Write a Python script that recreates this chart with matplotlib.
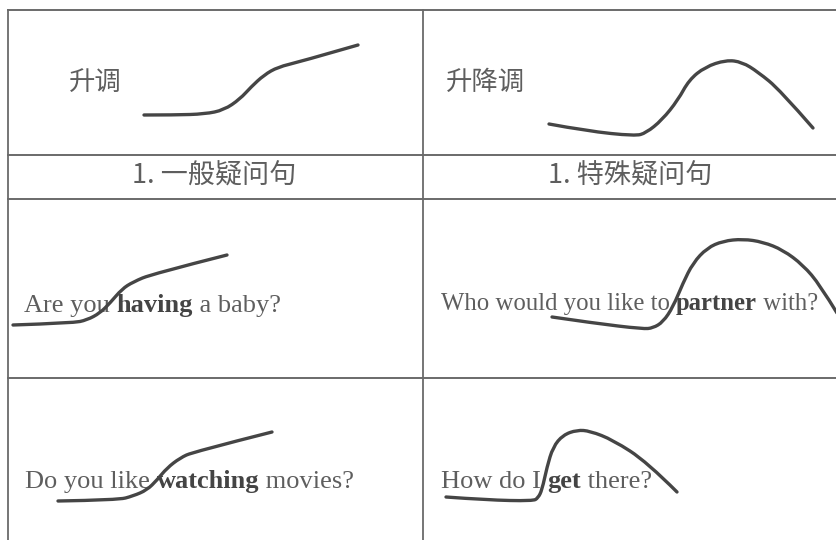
import matplotlib
matplotlib.use('Agg')
import matplotlib.pyplot as plt
from matplotlib.path import Path
from matplotlib.patches import PathPatch

plt.rcParams['font.family'] = ['Noto Sans CJK SC', 'DejaVu Sans']

W, H = 837, 540

# table grid, in pixels from the top-left corner
row_lines = [10, 155, 199, 378]
col_lines = [8, 423]

tone_labels = ['升调', '升降调']
type_labels = ['1. 一般疑问句', '1. 特殊疑问句']

# sentences: (before, bold word, after)
sentences = [
    ('Are you ', 'having', ' a baby?'),
    ('Who would you like to ', 'partner', ' with?'),
    ('Do you like ', 'watching', ' movies?'),
    ('How do I ', 'get', ' there?'),
]
sent_pos = [(24, 312), (441, 310), (25, 488), (441, 488)]
sent_size = [19, 17.8, 19, 19]

# intonation curves
rise_x = [144, 175, 205, 224, 240, 251, 264, 278, 299, 358]
rise_y = [115, 115, 114, 110, 99, 87, 75, 67, 62, 45]

risefall_x = [549, 587, 635, 646, 662, 678, 689, 705, 726, 742, 758, 780, 813]
risefall_y = [124, 131, 136, 133, 120, 100, 80, 67, 60, 62, 72, 90, 128]

baby_x = [13, 73, 87, 100, 110, 122, 133, 152, 227]
baby_y = [325, 323, 320, 313, 303, 289, 282, 274, 255]

partner_x = [552, 593, 643, 653, 663, 673, 683, 693, 707, 723, 743, 763, 783, 803, 820, 837]
partner_y = [317, 323, 329, 328, 322, 307, 283, 263, 248, 241, 239, 242, 250, 265, 285, 313]

movies_x = [58, 118, 133, 147, 157, 167, 180, 193, 272]
movies_y = [501, 500, 496, 490, 480, 468, 458, 452, 432]

there_x = [446, 487, 533, 538, 542, 547, 553, 563, 577, 590, 613, 647, 677]
there_y = [497, 500, 501, 498, 490, 467, 447, 435, 430, 431, 440, 462, 492]

curves = [(rise_x, rise_y), (risefall_x, risefall_y), (baby_x, baby_y),
          (partner_x, partner_y), (movies_x, movies_y), (there_x, there_y)]


def smooth_path(xs, ys):
    # quadratic bezier: read points as control points, midpoints on the curve
    pts = list(zip(xs, ys))
    verts = [pts[0]]
    codes = [Path.MOVETO]
    for i in range(1, len(pts) - 1):
        end = pts[-1] if i == len(pts) - 2 else ((pts[i][0] + pts[i + 1][0]) / 2,
                                                  (pts[i][1] + pts[i + 1][1]) / 2)
        verts += [pts[i], end]
        codes += [Path.CURVE3, Path.CURVE3]
    return Path(verts, codes)


fig = plt.figure(figsize=(W / 100, H / 100), dpi=100)
ax = fig.add_axes([0, 0, 1, 1])
ax.set_xlim(0, W)
ax.set_ylim(H, 0)
ax.axis('off')

line_col = '#6a6a6a'
text_col = '#5e5e5e'

for y in row_lines:
    ax.plot([col_lines[0], W], [y, y], color=line_col, lw=1.4)
for x in col_lines:
    ax.plot([x, x], [row_lines[0], H], color=line_col, lw=1.3)

# row 1: tone names
ax.text(69, 82, tone_labels[0], fontsize=19, color=text_col, va='center', ha='left')
ax.text(446, 82, tone_labels[1], fontsize=19, color=text_col, va='center', ha='left')

# row 2: question types
ax.text(214, 176, type_labels[0], fontsize=19.5, color=text_col, va='center', ha='center')
ax.text(630, 176, type_labels[1], fontsize=19.5, color=text_col, va='center', ha='center')

# rows 3-4: sentences with the stressed word in bold
fig.canvas.draw()
renderer = fig.canvas.get_renderer()
for parts, (x0, yb), fs in zip(sentences, sent_pos, sent_size):
    x = x0
    for part, weight in zip(parts, ['normal', 'bold', 'normal']):
        t = ax.text(x, yb, part, fontsize=fs, family='Liberation Serif',
                    fontweight=weight, color=text_col if weight == 'normal' else '#444444',
                    va='baseline', ha='left')
        bb = t.get_window_extent(renderer=renderer)
        x = x + bb.width

for cx, cy in curves:
    ax.add_patch(PathPatch(smooth_path(cx, cy), facecolor='none', edgecolor='#454545',
                           lw=2.4, capstyle='round', joinstyle='round', zorder=5))

fig.savefig('out.png', dpi=100, facecolor='white')
